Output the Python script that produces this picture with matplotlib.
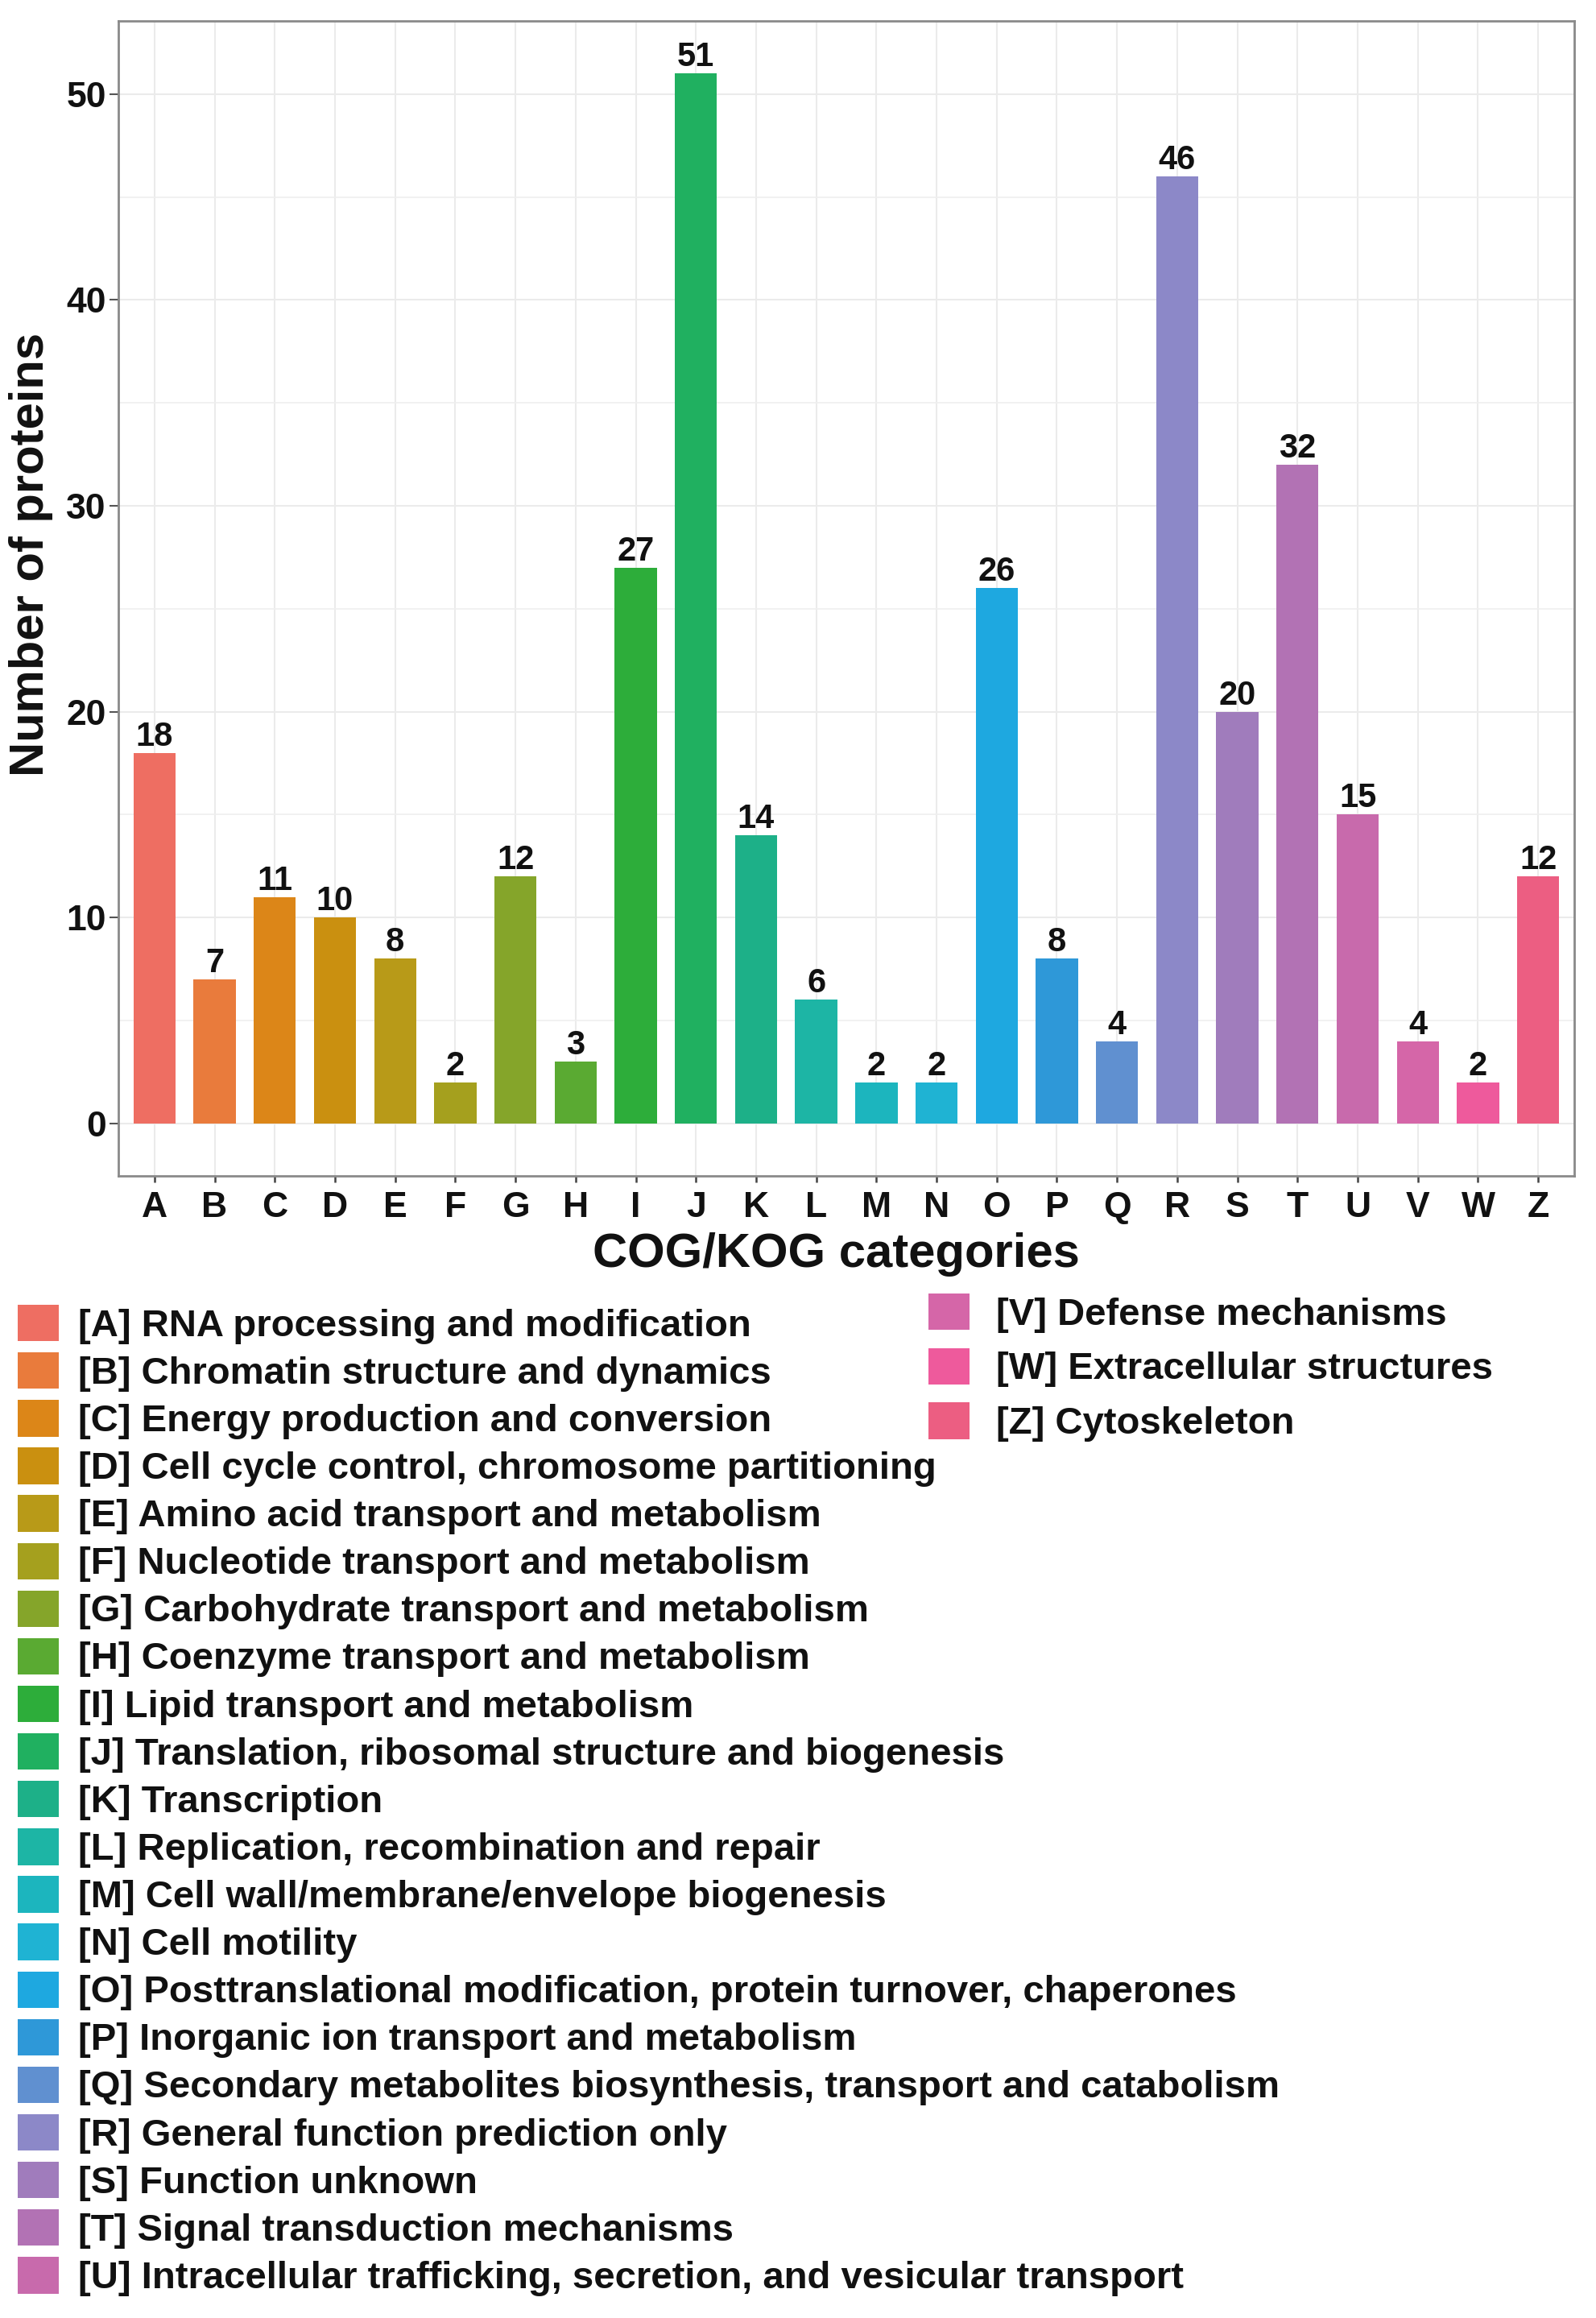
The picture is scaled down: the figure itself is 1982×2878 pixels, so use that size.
import numpy as np
import matplotlib
matplotlib.use("Agg")
import matplotlib.pyplot as plt
from matplotlib.ticker import FixedLocator

# ---------------- data ----------------
categories = ["A", "B", "C", "D", "E", "F", "G", "H", "I", "J", "K", "L",
              "M", "N", "O", "P", "Q", "R", "S", "T", "U", "V", "W", "Z"]
counts = [18, 7, 11, 10, 8, 2, 12, 3, 27, 51, 14, 6,
          2, 2, 26, 8, 4, 46, 20, 32, 15, 4, 2, 12]
descriptions = [
    "RNA processing and modification",
    "Chromatin structure and dynamics",
    "Energy production and conversion",
    "Cell cycle control, chromosome partitioning",
    "Amino acid transport and metabolism",
    "Nucleotide transport and metabolism",
    "Carbohydrate transport and metabolism",
    "Coenzyme transport and metabolism",
    "Lipid transport and metabolism",
    "Translation, ribosomal structure and biogenesis",
    "Transcription",
    "Replication, recombination and repair",
    "Cell wall/membrane/envelope biogenesis",
    "Cell motility",
    "Posttranslational modification, protein turnover, chaperones",
    "Inorganic ion transport and metabolism",
    "Secondary metabolites biosynthesis, transport and catabolism",
    "General function prediction only",
    "Function unknown",
    "Signal transduction mechanisms",
    "Intracellular trafficking, secretion, and vesicular transport",
    "Defense mechanisms",
    "Extracellular structures",
    "Cytoskeleton",
]
y_ticks = [0, 10, 20, 30, 40, 50]
x_title = "COG/KOG categories"
y_title = "Number of proteins"

# bar colours (as seen in the reference)
colors = ["#EE6E62", "#E97B3C", "#DC8618", "#CA9010", "#B89A18", "#A5A01E",
          "#85A52A", "#5AAA32", "#2DAD3A", "#20B060", "#1DB088", "#1DB5A5",
          "#1CB5BE", "#1FB3D3", "#1EA8E0", "#2E98D8", "#6090D0", "#8C88C8",
          "#A07CBC", "#B272B4", "#C86AAC", "#D566A8", "#EE5A9C", "#EC5E82"]

# ---------------- figure ----------------
plt.rcParams["font.family"] = ["Liberation Sans", "DejaVu Sans"]
plt.rcParams["font.weight"] = "bold"

W, H = 1983, 2878
fig = plt.figure(figsize=(W / 100, H / 100), dpi=100)
fig.patch.set_facecolor("white")

left, right, top, bottom = 147, 1955, 26, 1460
ax = fig.add_axes([left / W, 1 - bottom / H, (right - left) / W, (bottom - top) / H])

n = len(categories)
bars = ax.bar(categories, counts, width=0.7, color=colors, zorder=3)
ax.bar_label(bars, labels=[str(v) for v in counts], padding=0,
             fontsize=30, fontweight="bold", color="#111111")

ax.set_xlim(-0.6, n - 1 + 0.6)
ax.set_ylim(-0.05 * max(counts), max(counts) * 1.05)
ax.yaxis.set_major_locator(FixedLocator(y_ticks))
ax.yaxis.set_minor_locator(FixedLocator([t + 5 for t in y_ticks[:-1]]))

ax.grid(which="major", axis="both", color="#EBEBEB", linewidth=1.5, zorder=0)
ax.grid(which="minor", axis="y", color="#EFEFEF", linewidth=1.2, zorder=0)
ax.set_axisbelow(True)

for s in ax.spines.values():
    s.set_color("#8a8a8a")
    s.set_linewidth(2.0)

ax.tick_params(axis="x", which="major", length=6, width=1.8, color="#444444",
               pad=8, labelsize=32, labelcolor="#111111")
ax.tick_params(axis="y", which="major", length=8, width=1.5, color="#555555",
               pad=3, labelsize=32, labelcolor="#111111")
ax.tick_params(axis="y", which="minor", length=0)
for lab in ax.get_xticklabels() + ax.get_yticklabels():
    lab.set_fontweight("bold")

fig.text(1038 / W, 1 - 1573 / H, x_title, ha="center", va="baseline",
         fontsize=43, fontweight="bold", color="#111111")
fig.text(39 / W, 1 - 688 / H, y_title, ha="center", va="center", rotation=90,
         fontsize=43, fontweight="bold", color="#111111")

# ---------------- legends ----------------
labels = ["[%s] %s" % (c, d) for c, d in zip(categories, descriptions)]
split = 21
leg1 = fig.legend(handles=list(bars)[:split], labels=labels[:split],
                  loc="upper left", bbox_to_anchor=(22 / W, 1 - 1620 / H),
                  frameon=False, borderpad=0, borderaxespad=0,
                  prop={"family": ["Liberation Sans"], "weight": "bold", "size": 34},
                  handlelength=1.08, handleheight=1.1, handletextpad=0.5,
                  labelspacing=0.22)
leg2 = fig.legend(handles=list(bars)[split:], labels=labels[split:],
                  loc="upper left", bbox_to_anchor=(1153 / W, 1 - 1606 / H),
                  frameon=False, borderpad=0, borderaxespad=0,
                  prop={"family": ["Liberation Sans"], "weight": "bold", "size": 34},
                  handlelength=1.08, handleheight=1.1, handletextpad=0.7,
                  labelspacing=0.4)
for leg in (leg1, leg2):
    for t in leg.get_texts():
        t.set_color("#111111")

fig.savefig("out.png", dpi=100, facecolor="white")
